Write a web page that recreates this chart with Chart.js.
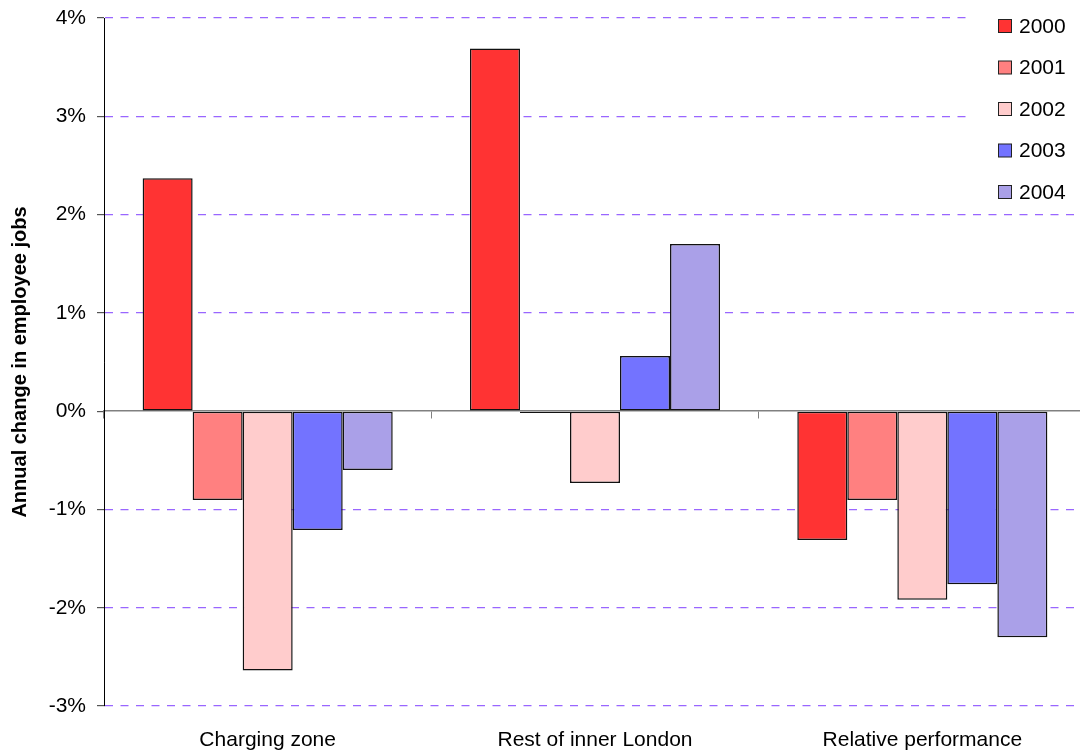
<!DOCTYPE html>
<html lang="en">
<head>
  <meta charset="UTF-8">
  <title>Annual change in employee jobs</title>
  <script src="https://cdn.jsdelivr.net/npm/chart.js"></script>
  <style>
    body {
      margin: 0;
      background: #fff;
      overflow: hidden;
    }

    .chart-box {
      width: 1088px;
      height: 751px;
    }
  </style>
</head>
<body>
  <div class="chart-box">
    <canvas id="jobsChart"></canvas>
  </div>

<script>
    const categories = ['Charging zone', 'Rest of inner London', 'Relative performance'];
    const years = ['2000', '2001', '2002', '2003', '2004'];

    const y2000 = [2.37, 3.69, -1.31];
    const y2001 = [-0.905, -0.02, -0.905];
    const y2002 = [-2.64, -0.73, -1.92];
    const y2003 = [-1.21, 0.56, -1.76];
    const y2004 = [-0.60, 1.70, -2.30];

    const yTicks = [-3, -2, -1, 0, 1, 2, 3, 4];

    const seriesValues = [y2000, y2001, y2002, y2003, y2004];
    const colors = ['#ff3333', '#ff8080', '#ffcccc', '#7373ff', '#aaa0e8'];

    const font = 'Liberation Sans, Arial, sans-serif';

    // legend sits inside the plot, top right, on a white box like the original
    const boxLegend = {
      id: 'boxLegend',
      afterDraw(chart) {
        const ctx = chart.ctx;
        ctx.save();
        ctx.fillStyle = '#fff';
        ctx.fillRect(968, 0, 112, 207);
        ctx.font = '21px ' + font;
        ctx.textBaseline = 'middle';
        chart.data.datasets.forEach((ds, i) => {
          const y = 26 + i * 41.5;
          ctx.fillStyle = ds.backgroundColor;
          ctx.fillRect(998.5, y - 6.5, 13, 13);
          ctx.strokeStyle = '#222';
          ctx.lineWidth = 1;
          ctx.strokeRect(998.5, y - 6.5, 13, 13);
          ctx.fillStyle = '#000';
          ctx.fillText(ds.label, 1019, y + 1);
        });
        ctx.restore();
      }
    };

    new Chart(document.getElementById('jobsChart').getContext('2d'), {
      type: 'bar',
      data: {
        labels: categories,
        datasets: years.map((yr, i) => ({
          label: yr,
          data: seriesValues[i],
          backgroundColor: colors[i],
          borderColor: '#111',
          borderWidth: 1.5,
          borderSkipped: false,
          barPercentage: 1,
          categoryPercentage: 0.764
        }))
      },
      options: {
        responsive: true,
        maintainAspectRatio: false,
        animation: false,
        layout: { padding: { top: 18, right: 2, left: 0, bottom: 0 } },
        plugins: {
          legend: { display: false },
          tooltip: { enabled: false }
        },
        scales: {
          x: {
            grid: { display: false, drawTicks: false },
            border: { display: false },
            ticks: { color: '#000', padding: 22, font: { family: font, size: 21 } },
            afterFit(scale) { scale.height = 45; }
          },
          x2: {
            type: 'category',
            labels: categories,
            position: { y: 0 },
            grid: { drawOnChartArea: false, offset: true, tickLength: 7, tickColor: '#808080' },
            border: { color: '#808080', width: 1.5 },
            ticks: { display: false }
          },
          y: {
            min: -3,
            max: 4,
            afterBuildTicks(scale) {
              scale.ticks = yTicks.map(v => ({ value: v }));
            },
            grid: {
              color: ctx => ctx.tick && ctx.tick.value === 0 ? 'rgba(0,0,0,0)' : '#9966ff',
              lineWidth: 1.2,
              tickLength: 7,
              tickColor: '#555'
            },
            border: { color: '#000', width: 1, dash: [8, 7.5] },
            ticks: {
              color: '#000',
              padding: 11,
              font: { family: font, size: 21 },
              callback: v => v + '%'
            },
            title: {
              display: true,
              text: 'Annual change in employee jobs',
              color: '#000',
              font: { family: font, size: 20, weight: 'bold' },
              padding: { top: 8, bottom: 0 }
            },
            afterFit(scale) {
              scale.width = 104;
              scale.paddingTop = 0;
              scale.paddingBottom = 0;
            }
          }
        }
      },
      plugins: [boxLegend]
    });
</script>
</body>
</html>
